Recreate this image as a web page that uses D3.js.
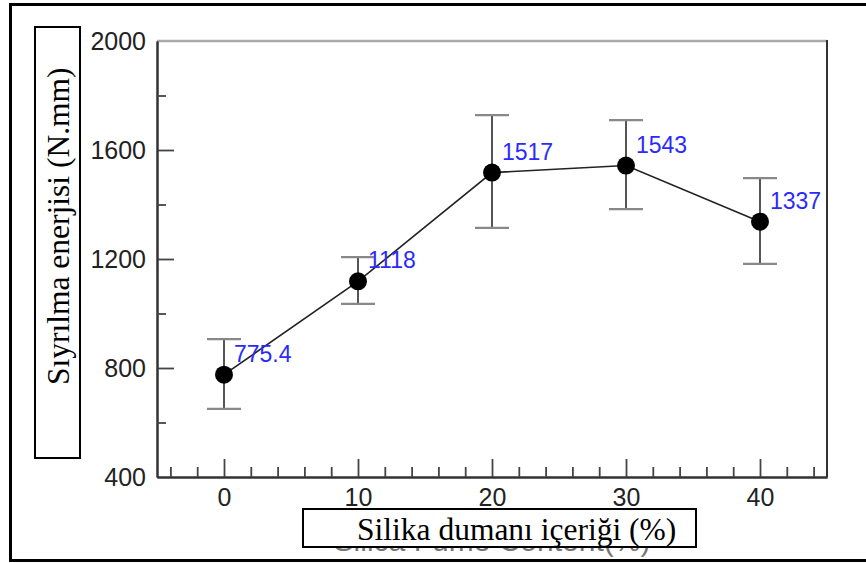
<!DOCTYPE html>
<html>
<head>
<meta charset="utf-8">
<script src="https://cdn.jsdelivr.net/npm/d3@7"></script>
<style>
  body { margin: 0; background: #fff; }
  svg { display: block; }
</style>
</head>
<body>
<div id="wrapper"></div>
<script>
// data
const contents = [0, 10, 20, 30, 40]
const energy = [775.4, 1118, 1517, 1543, 1337]
const errLow = [650, 1035, 1314, 1383, 1182]
const errHigh = [906, 1207, 1728, 1710, 1497]
const pointLabels = ["775.4", "1118", "1517", "1543", "1337"]
const yTicks = [400, 800, 1200, 1600, 2000]
const yMinor = [600, 1000, 1400, 1800]
const xTicks = [0, 10, 20, 30, 40]
const xMinor = [-4, -2, 2, 4, 6, 8, 12, 14, 16, 18, 22, 24, 26, 28, 32, 34, 36, 38, 42, 44]
const xTitle = "Silika dumanı içeriği (%)"
const xTitleOld = "Silica Fume Content(%)"
const yTitle = "Sıyrılma enerjisi (N.mm)"

function drawChart() {
  const dim = { width: 866, height: 563 }
  const plot = { left: 157, right: 827, top: 41, bottom: 477 }

  const svg = d3.select("#wrapper")
    .append("svg")
    .attr("width", dim.width)
    .attr("height", dim.height)

  // outer frame
  svg.append("rect")
    .attr("x", 10.5).attr("y", 4.5)
    .attr("width", 880).attr("height", 556)
    .attr("fill", "#fff")
    .attr("stroke", "#000")
    .attr("stroke-width", 3)

  // scales
  const x = d3.scaleLinear().domain([-5, 45]).range([plot.left, plot.right])
  const y = d3.scaleLinear().domain([400, 2000]).range([plot.bottom, plot.top])

  const sans = "'Liberation Sans', Arial, Helvetica, sans-serif"
  const serif = "'Liberation Serif', 'Times New Roman', serif"

  // plot box sides
  svg.append("line")
    .attr("x1", plot.left).attr("x2", plot.right)
    .attr("y1", plot.top).attr("y2", plot.top)
    .attr("stroke", "#aaa").attr("stroke-width", 2.5)
  svg.append("line")
    .attr("x1", plot.right).attr("x2", plot.right)
    .attr("y1", plot.top - 1).attr("y2", plot.bottom)
    .attr("stroke", "#333").attr("stroke-width", 2)

  // y axis
  const yAxis = svg.append("g")
    .attr("transform", `translate(${plot.left},0)`)
    .call(d3.axisLeft(y).tickValues(yTicks).tickFormat(d3.format("d"))
      .tickSize(-17).tickPadding(11).tickSizeOuter(0))
  const yAxisMinor = svg.append("g")
    .attr("transform", `translate(${plot.left},0)`)
    .call(d3.axisLeft(y).tickValues(yMinor).tickSize(-9).tickFormat("").tickSizeOuter(0))

  // x axis
  const xAxis = svg.append("g")
    .attr("transform", `translate(0,${plot.bottom})`)
    .call(d3.axisBottom(x).tickValues(xTicks).tickFormat(d3.format("d"))
      .tickSize(-18).tickPadding(11).tickSizeOuter(0))
  const xAxisMinor = svg.append("g")
    .attr("transform", `translate(0,${plot.bottom})`)
    .call(d3.axisBottom(x).tickValues(xMinor).tickSize(-10).tickFormat("").tickSizeOuter(0))

  ;[yAxis, yAxisMinor, xAxis, xAxisMinor].forEach(a => {
    a.select(".domain").attr("stroke", "#333").attr("stroke-width", 2)
    a.selectAll(".tick line").attr("stroke", "#444").attr("stroke-width", 1.8)
    a.selectAll(".tick text")
      .attr("font-family", sans)
      .attr("font-size", 25)
      .attr("fill", "#222")
  })
  // hide ticks that sit on the frame
  yAxis.selectAll(".tick")
    .filter(d => d === 400 || d === 2000)
    .select("line").remove()

  const pts = contents.map((c, i) => ({
    x: c, y: energy[i], lo: errLow[i], hi: errHigh[i], label: pointLabels[i]
  }))

  // error bars
  const bars = svg.append("g")
  bars.selectAll(".stem").data(pts).join("line")
    .attr("x1", d => x(d.x)).attr("x2", d => x(d.x))
    .attr("y1", d => y(d.lo)).attr("y2", d => y(d.hi))
    .attr("stroke", "#555").attr("stroke-width", 2)
  bars.selectAll(".capHi").data(pts).join("line")
    .attr("x1", d => x(d.x) - 17).attr("x2", d => x(d.x) + 17)
    .attr("y1", d => y(d.hi)).attr("y2", d => y(d.hi))
    .attr("stroke", "#888").attr("stroke-width", 2.2)
  bars.selectAll(".capLo").data(pts).join("line")
    .attr("x1", d => x(d.x) - 17).attr("x2", d => x(d.x) + 17)
    .attr("y1", d => y(d.lo)).attr("y2", d => y(d.lo))
    .attr("stroke", "#888").attr("stroke-width", 2.2)

  // line
  const line = d3.line().x(d => x(d.x)).y(d => y(d.y))
  svg.append("path")
    .datum(pts)
    .attr("d", line)
    .attr("fill", "none")
    .attr("stroke", "#222")
    .attr("stroke-width", 1.6)

  // markers
  svg.append("g").selectAll("circle").data(pts).join("circle")
    .attr("cx", d => x(d.x))
    .attr("cy", d => y(d.y))
    .attr("r", 9)
    .attr("fill", "#000")

  // value labels
  svg.append("g").selectAll("text").data(pts).join("text")
    .attr("x", d => x(d.x) + 10)
    .attr("y", d => y(d.y) - 13)
    .attr("font-family", sans)
    .attr("font-size", 23)
    .attr("fill", "#2a2aff")
    .text(d => d.label)

  // original english x title: only a sliver peeks out under the box
  svg.append("clipPath").attr("id", "under-box")
    .append("rect")
    .attr("x", 0).attr("y", 548).attr("width", dim.width).attr("height", 11)
  svg.append("text")
    .attr("clip-path", "url(#under-box)")
    .attr("x", x(20))
    .attr("y", 551)
    .attr("text-anchor", "middle")
    .attr("font-family", sans)
    .attr("font-size", 30)
    .attr("fill", "#777")
    .text(xTitleOld)

  // x title box
  svg.append("rect")
    .attr("x", 303).attr("y", 509)
    .attr("width", 393).attr("height", 38)
    .attr("fill", "#fff")
    .attr("stroke", "#000")
    .attr("stroke-width", 2)
  svg.append("text")
    .attr("x", 357)
    .attr("y", 540)
    .attr("font-family", serif)
    .attr("font-size", 31.5)
    .attr("fill", "#000")
    .text(xTitle)

  // y title box
  svg.append("rect")
    .attr("x", 35).attr("y", 27)
    .attr("width", 45).attr("height", 431)
    .attr("fill", "#fff")
    .attr("stroke", "#000")
    .attr("stroke-width", 2)
  svg.append("text")
    .attr("transform", "translate(69,385) rotate(-90)")
    .attr("font-family", serif)
    .attr("font-size", 31.5)
    .attr("fill", "#000")
    .text(yTitle)
}
drawChart()
</script>
</body>
</html>
